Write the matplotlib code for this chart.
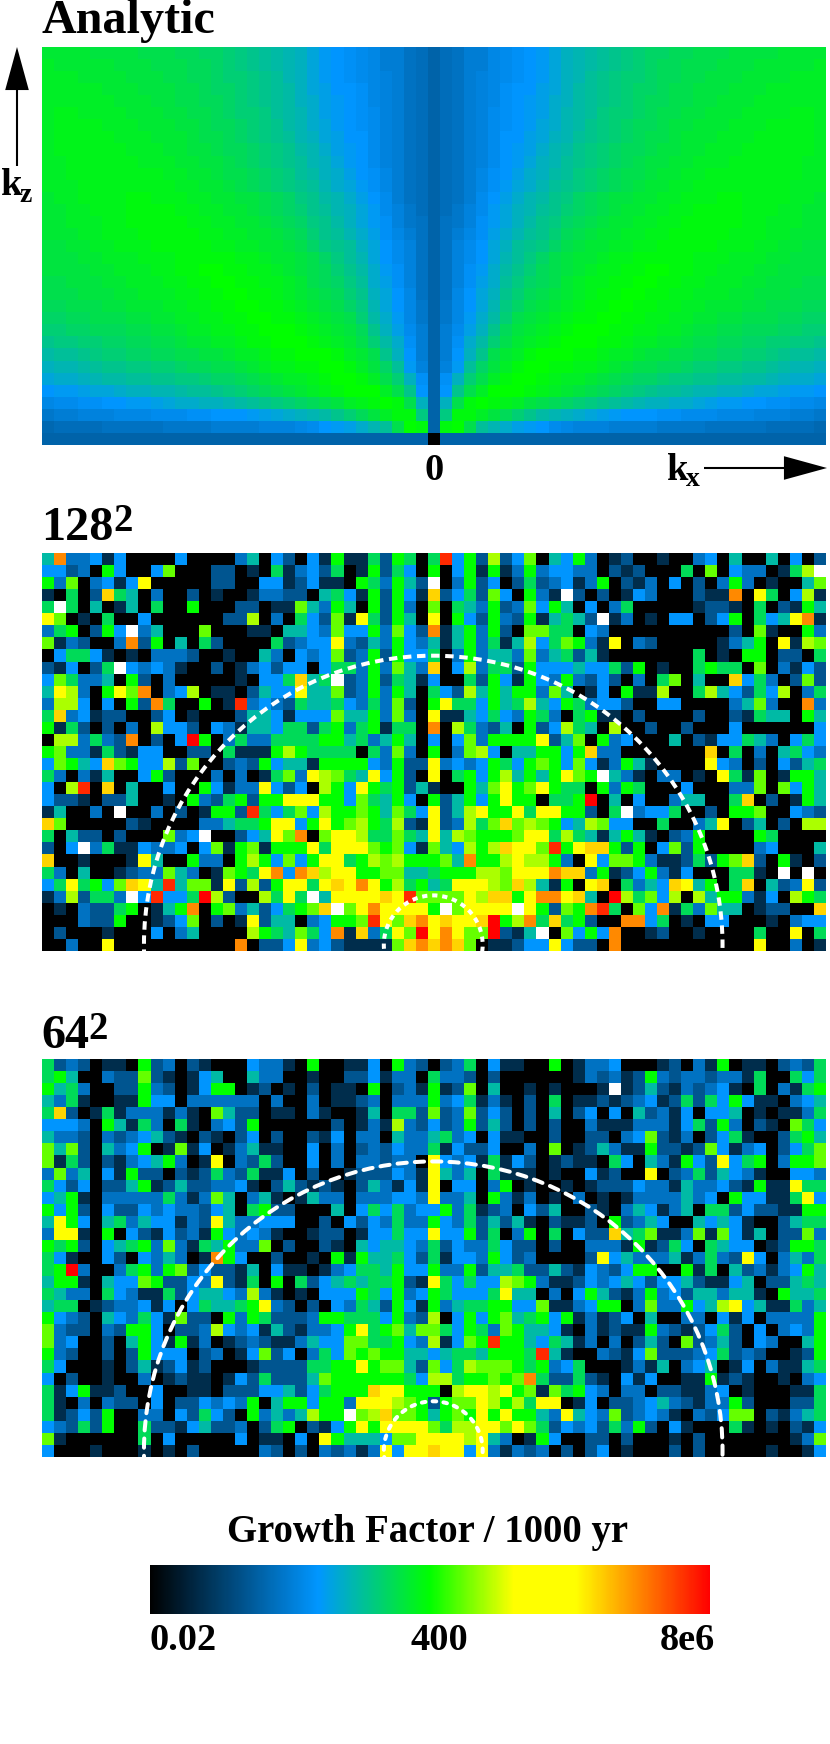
import matplotlib
matplotlib.use("Agg")
import matplotlib.pyplot as plt
import numpy as np
from matplotlib.colors import LinearSegmentedColormap, LogNorm
from matplotlib.patches import Circle
from matplotlib.cm import ScalarMappable

W, H = 830, 1744

# Analytic panel: position on the colour scale (percent), per row from top,
# for |kx| = 0 .. 32 (the panel is mirror symmetric about kx = 0)
analytic_pct = [
 [20,22,23,25,25,27,28,29,30,31,33,35,36,37,38,39,40,41,42,42,43,43,44,44,44,45,45,45,45,46,46,46,46],
 [20,22,23,25,25,27,28,29,30,31,33,35,36,37,38,39,40,41,42,43,43,44,44,44,45,45,45,46,46,46,46,46,47],
 [20,22,23,25,26,27,28,29,30,31,33,35,36,38,39,40,41,41,42,43,43,44,44,45,45,45,46,46,46,46,47,47,47],
 [20,22,23,25,26,27,29,30,30,32,33,35,37,38,39,40,41,42,42,43,44,44,45,45,45,46,46,46,47,47,47,47,47],
 [20,22,23,25,26,27,29,30,31,32,34,35,37,38,39,40,41,42,43,43,44,44,45,45,46,46,46,47,47,47,47,47,47],
 [20,22,23,25,26,28,29,30,31,32,34,36,37,38,40,41,41,42,43,44,44,45,45,46,46,46,47,47,47,47,48,48,47],
 [20,22,23,25,26,28,29,30,31,33,34,36,37,39,40,41,42,43,43,44,45,45,46,46,46,47,47,47,48,48,48,48,47],
 [20,22,23,25,26,28,30,30,32,33,35,36,38,39,40,41,42,43,44,44,45,46,46,46,47,47,47,48,48,48,48,48,47],
 [20,22,23,25,26,28,30,31,32,34,36,37,39,40,41,42,43,43,44,45,45,46,46,47,47,47,48,48,48,48,48,48,47],
 [20,22,23,25,26,28,30,31,33,35,36,38,39,40,41,42,43,44,45,45,46,46,47,47,47,48,48,48,48,48,48,47,47],
 [20,22,23,25,27,29,30,32,34,35,37,38,40,41,42,43,44,44,45,46,46,47,47,48,48,48,48,48,48,48,48,47,47],
 [20,22,23,25,27,29,31,33,34,36,38,39,40,41,42,43,44,45,46,46,47,47,48,48,48,48,48,48,48,48,47,47,47],
 [20,22,23,25,28,30,32,34,36,37,39,40,42,43,44,45,45,46,46,47,47,48,48,48,49,49,48,48,48,48,47,47,46],
 [20,22,24,26,28,31,33,35,36,38,39,41,42,43,44,45,46,46,47,47,48,48,49,49,49,49,48,48,48,47,47,46,46],
 [20,23,24,26,29,31,33,35,37,39,40,42,43,44,45,46,46,47,47,48,48,49,49,49,49,49,48,48,47,47,47,46,46],
 [20,23,25,27,29,32,34,36,38,39,41,43,44,45,46,46,47,47,48,48,49,49,49,49,49,48,48,48,47,47,46,46,46],
 [20,23,26,28,30,33,35,38,39,40,42,44,45,46,46,47,47,48,48,49,49,49,49,49,48,48,48,47,47,46,46,45,45],
 [20,23,26,28,30,33,36,38,40,42,44,45,46,46,47,48,48,49,49,49,49,49,48,48,48,47,47,47,46,46,45,45,45],
 [20,23,26,29,31,34,37,39,41,43,44,45,46,47,48,48,49,49,50,50,49,49,48,48,47,47,47,46,46,45,45,45,45],
 [20,23,26,29,32,34,38,40,42,43,44,46,47,48,48,49,49,50,50,49,49,48,48,47,47,47,46,46,45,45,45,44,44],
 [20,23,27,30,33,35,39,41,43,44,45,46,47,48,49,49,50,50,49,49,48,48,47,47,47,46,46,45,45,45,44,44,44],
 [20,24,27,30,33,36,40,42,44,45,46,47,48,49,49,50,50,49,49,48,48,47,47,46,46,46,45,45,44,44,44,43,43],
 [20,24,27,31,34,37,41,44,45,46,47,48,49,49,50,50,49,49,48,48,47,47,46,46,45,45,44,44,44,43,43,42,42],
 [20,25,28,32,35,39,43,45,46,47,48,49,50,50,50,49,49,48,48,47,47,46,45,45,44,44,43,43,43,42,42,41,41],
 [20,25,29,34,37,41,44,46,47,48,49,50,50,50,49,49,48,47,47,46,46,45,44,44,43,43,42,42,41,41,40,40,39],
 [20,25,30,35,39,44,46,47,49,50,50,50,49,49,48,47,47,46,45,45,44,44,43,43,42,42,41,41,40,39,38,38,37],
 [20,26,31,38,42,45,47,49,50,50,49,49,48,48,47,46,45,44,44,43,43,42,41,41,40,40,39,39,38,37,36,36,35],
 [20,29,35,41,44,47,49,50,50,49,48,47,47,46,45,44,43,42,42,41,40,40,39,39,38,38,37,37,36,35,34,34,33],
 [20,30,39,44,47,50,50,50,49,48,47,46,45,44,43,42,41,40,39,38,38,37,36,36,35,35,34,33,33,32,31,31,30],
 [20,35,44,49,50,49,48,47,45,44,43,42,41,40,39,38,37,36,35,35,34,34,33,32,31,31,30,30,29,29,28,28,27],
 [20,40,49,49,47,45,43,41,39,37,36,35,34,33,32,31,30,30,30,29,29,28,28,28,27,27,27,26,26,26,25,25,24],
 [20,49,50,44,38,36,34,32,31,30,28,27,26,26,26,25,25,25,25,24,24,24,24,23,23,23,23,23,22,22,22,22,21],
 [0,20,20,20,20,20,20,20,20,20,20,20,20,20,20,20,20,20,20,20,20,20,20,20,20,20,20,20,20,20,20,20,20],
]

# Simulation panels: one character per cell (rows from top)
level_pct = {"0": 0, "1": 9, "2": 17, "3": 23, "4": 30, "5": 37, "6": 43, "7": 50, "8": 56,
             "9": 60, "Y": 70, "A": 80, "O": 87, "R": 96, "X": 100, "W": 120}

grid_128 = [
 "5O334 14000 04000 03504 20417 11627 6" "06R47 29248 05473 01200 10034 05005 0402",
 "44230 74004 80002 20106 13426 01726 4" "07047 17137 34433 02120 00608 04330 169W",
 "73803 414Y0 00002 20044 12411 07637 5" "2W037 24026 23413 70213 04020 37301 0058",
 "10602 A6503 00201 00133 22056 41727 4" "1A246 28407 31W20 20143 00021 1O0Y6 0491",
 "6W605 01506 00700 02201 18537 50727 3" "08065 37238 47504 03600 00012 21060 2175",
 "Y8010 60040 00000 22903 06428 1Y627 5" "0Y074 27327 15652 W1301 04402 47064 5YO1",
 "36702 74W35 00080 00110 55438 44738 4" "2O157 37208 86604 30000 00000 02081 0073",
 "81320 03O27 05062 00006 2344Y 32537 4" "35157 36159 46873 1Y032 00000 13570 Y198",
 "04664 10103 33200 10053 04348 23727 4" "46037 35538 35625 10000 00060 10770 2206",
 "21402 6W434 31002 01342 44046 63738 5" "3A049 36627 44454 46270 10067 66080 3142",
 "48633 50720 30000 01044 6A56W 23726 5" "14006 27417 43732 42030 68050 0A463 0282",
 "5Y930 7Y8O0 34901 10254 4Y558 23737 5" "06429 57577 38501 40711 90069 54264 9036",
 "39940 4072O 60070 1R343 26556 43638 2" "07Y66 47569 54763 44200 44000 03583 00O3",
 "6A341 22002 40100 02554 14448 55738 3" "0Y115 46437 63067 11020 00020 02165 5075",
 "71620 20309 44204 31554 66267 36716 6" "0O096 32507 24965 09002 00200 04000 0004",
 "09936 32O02 04X70 36336 66677 56357 5" "04048 37777 Y2580 73400 05021 44653 0464",
 "78331 62144 00220 61117 97666 60638 3" "07038 94055 7747A 33000 0000A 06030 5643",
 "48754 A8744 92800 23274 55177 77437 2" "2Y343 47647 87484 13751 0000Y 43020 4256",
 "63031 50047 20003 03016 83Y98 65Y47 2" "0Y067 47957 57Y87 W5310 33010 Y6180 1775",
 "409R0 A0500 40074 133Y4 24097 4Y767 2" "51007 58Y78 Y7660 73760 00400 03380 8475",
 "42210 22500 10732 67277 YYY77 48657 4" "07257 47Y77 0667X 05040 03550 06A02 0175",
 "15003 0W003 02017 72R64 68497 78758 6" "4Y259 Y77Y6 YY772 06W34 46002 07780 0432",
 "A8000 00210 00033 5667Y Y47Y7 89769 2" "1Y239 68A89 87459 84400 60035 Y0250 2099",
 "60522 02000 834W0 0245Y 8O08Y Y9668 6" "5Y598 7778Y Y6965 15751 02370 00076 0000",
 "204W3 61143 34048 17817 77Y6Y YY878 4" "18549 79AYY 8R7YA A7270 48270 00034 0005",
 "A0010 001Y5 00733 07974 847YY 67989 7" "7785O 779Y9 9730Y 48873 11262 78A20 7102",
 "63050 01233 85301 876YO 4OA9Y Y7788 5" "56777 998YY YOAA3 71247 31400 06610 W0W0",
 "46Y67 48AY5 R5881 Y2927 YY6YA YOY79 6" "756YY Y98A9 5170Y A0635 4AY57 06A05 23Y2",
 "13926 63W4R 446X9 20096 Y6W5Y YYYAY R" "8888Y 9AA7Y OOYA5 0X968 49095 77314 0976",
 "01032 26701 57O07 83524 678AW 8YOYY Y" "Y7W8Y YYYWY 7287O R6084 O1638 55012 200A",
 "00032 27001 24802 01Y25 50347 78RY8 A" "OYAYY AX79O 6A672 00OO4 60104 40001 0344",
 "02000 10004 03500 00976 5864O 1A36Y 8" "XYOY8 8X215 W0847 4O001 20010 00060 0Y06",
 "00300 Y0000 00000 0O022 4Y342 11118 A" "OAOA8 01124 4Y422 0O000 00000 000Y0 0301",
]

grid_64 = [
 "62320 11072 30210 00433 10700 11407 3" "20236 04110 07013 34000 12031 70110 2326",
 "67500 32282 10145 00533 00100 22413 3" "06332 02000 00013 23127 32332 33160 0646",
 "75630 02273 20147 70120 10201 10702 3" "17128 05001 01000 1W125 21323 41060 3167",
 "53610 01174 40333 33303 00301 12303 3" "37346 13102 06011 21234 12626 47411 0345",
 "6A201 61333 13108 52201 10310 01506 6" "28238 24202 05024 04052 31404 45010 1136",
 "44430 75163 06103 42700 00002 01319 3" "24237 25202 02003 11133 31462 73021 0864",
 "53320 32345 21021 02402 00214 03305 3" "35634 04110 02002 20348 21302 46100 2675",
 "85820 53470 18140 13511 00403 02324 3" "36142 24003 08012 53117 22128 41340 2468",
 "81620 21345 7301Y 03262 00403 03323 3" "0Y434 16142 01211 06405 31742 Y4670 3778",
 "38350 41722 02126 32611 40200 12224 3" "1Y535 06111 01004 1200Y 02362 54310 0443",
 "64240 22571 25223 34102 52121 02531 4" "1Y044 03701 00101 22243 31533 42171 1Y66",
 "45710 33333 63138 50351 01533 03334 4" "3Y335 07313 01030 10133 33534 07441 16Y4",
 "74720 42243 43324 50672 20005 04646 3" "44736 12304 25002 10354 13506 62422 1177",
 "5Y740 56354 4132Y 53344 40020 42436 3" "37436 25251 02112 07235 40054 54100 2566",
 "3YY10 70421 42317 43431 00122 01446 4" "4Y447 26037 06042 2A568 11381 84150 2283",
 "76720 45673 83165 73380 20021 05455 4" "36243 36422 02003 33171 26406 54401 2776",
 "64100 42043 5301O 74002 00107 17556 4" "26144 37423 00002 Y4533 35136 32Y40 3536",
 "67X30 03673 78242 21504 11013 46657 4" "47337 25562 25214 32477 00716 05231 3475",
 "57710 54487 2243Y 21607 06245 65667 2" "1Y646 44987 31124 34542 44521 14502 2565",
 "65330 64311 62455 43931 01044 47647 3" "47644 46Y55 03047 52137 34255 35510 7556",
 "56601 23341 40465 567Y3 20204 36527 4" "17356 67744 81134 77038 33745 9Y451 1635",
 "74320 54364 18220 73762 22377 66647 3" "29047 47856 74713 12405 00330 41403 3337",
 "83220 32774 02239 43415 21334 7Y678 5" "88647 63875 54103 12117 32124 62040 3437",
 "83400 20574 17130 12321 13544 88667 4" "39148 7R775 46513 03025 20823 52043 0057",
 "73200 20274 44023 01482 40364 87877 5" "54566 57776 R5100 32148 22234 62320 0127",
 "64000 10251 24120 00122 22667 7Y788 5" "28469 88876 73460 00131 50345 01403 1156",
 "40200 10030 12110 14262 22587 77777 6" "49967 7878O 62262 10414 00117 12100 1034",
 "61471 12004 00110 22244 52467 77AYY 7" "7709Y Y9Y78 18674 30330 22113 40100 0116",
 "61030 32204 02243 43705 77477 3YYY9 8" "72788 Y9796 YY014 02234 53213 37200 0226",
 "61242 70033 04264 20735 35977 W89A8 8" "75787 Y7Y77 53Y54 38234 31032 48802 1356",
 "43262 70062 21452 23026 70214 7Y7YY Y" "Y8699 YY8Y8 62434 26372 04100 06101 0214",
 "81000 00060 40000 04011 040Y7 55548 8" "YYYY9 Y5301 74002 20200 01020 00000 0138",
 "40001 00010 10200 00032 02032 313Y4 Y" "YAYY4 Y3132 30202 40100 02020 00001 0014",
]

cbar_ticks = ["0.02", "400", "8e6"]
cbar_title = "Growth Factor / 1000 yr"
panel_titles = ["Analytic", "128", "64"]
ring_radii = [24.0, 4.1]

cmap = LinearSegmentedColormap.from_list("gf", [
    (0.0, "#000000"), (0.30, "#0096ff"), (0.50, "#00ff00"),
    (0.65, "#ffff00"), (0.76, "#ffff00"), (1.0, "#ff0000")], N=512)
cmap.set_over("white")
cmap.set_under("black")
norm = LogNorm(vmin=0.02, vmax=8e6)


def pct_to_value(pct):
    return 0.02 * (8e6 / 0.02) ** (np.asarray(pct, float) / 100.0)


def grid_to_values(rows):
    out = []
    for i, r in enumerate(rows):
        r = r.replace(" ", "")
        if len(r) != 65:
            raise ValueError(f"row {i} has {len(r)} cells")
        out.append([level_pct[c] for c in r])
    return pct_to_value(out)


half = np.array(analytic_pct, float)
analytic_vals = pct_to_value(np.hstack([half[:, :0:-1], half]))
vals_128 = grid_to_values(grid_128)
vals_64 = grid_to_values(grid_64)

plt.rcParams["font.family"] = ["Liberation Serif", "DejaVu Serif"]
plt.rcParams["font.weight"] = "bold"
fig = plt.figure(figsize=(W / 100, H / 100), dpi=100, facecolor="white")


def px_axes(x0, y0, x1, y1, **kw):
    return fig.add_axes([x0 / W, 1 - y1 / H, (x1 - x0) / W, (y1 - y0) / H], **kw)


X0, X1 = 41.5, 825
panels = [(46.7, 444.7, analytic_vals), (553.3, 950.8, vals_128), (1059.0, 1456.7, vals_64)]
axes = []
for y0, y1, vals in panels:
    ax = px_axes(X0, y0, X1, y1)
    ax.imshow(vals, cmap=cmap, norm=norm, interpolation="nearest", aspect="auto",
              extent=(-32.5, 32.5, -0.5, 32.5), origin="upper")
    ax.set_xlim(-32.5, 32.5)
    ax.set_ylim(-0.5, 32.5)
    ax.axis("off")
    axes.append(ax)

# (dash, gap) in line widths, cap style: outer ring then inner ring
ring_styles = [
    [((2.1, 1.4), "butt"), ((1.3, 1.2), "butt")],
    [((2.3, 2.0), "round"), ((0.9, 1.8), "round")],
]
for ax, styles in zip(axes[1:], ring_styles):
    for rad, (dash, cap) in zip(ring_radii, styles):
        ax.add_patch(Circle((0, 0), rad, fill=False, ec="white", lw=2.9,
                            linestyle=(0, dash), capstyle=cap, clip_on=True))

cax = px_axes(150, 1565, 710, 1614)
cb = fig.colorbar(ScalarMappable(norm=norm, cmap=cmap), cax=cax, orientation="horizontal")
cb.set_ticks([])
cb.minorticks_off()
cb.outline.set_visible(False)

ov = fig.add_axes([0, 0, 1, 1], zorder=10)
ov.set_xlim(0, W)
ov.set_ylim(H, 0)
ov.axis("off")
ov.patch.set_alpha(0)

T = dict(color="black", fontweight="bold", va="baseline")
ov.text(41, 33, panel_titles[0], fontsize=34.7, **T)
ov.text(41, 540, panel_titles[1], fontsize=34.7, **T)
ov.text(113, 531, "2", fontsize=28, **T)
ov.text(41, 1048, panel_titles[2], fontsize=34.7, **T)
ov.text(88, 1039, "2", fontsize=28, **T)

ov.text(434, 480, "0", fontsize=27.6, ha="center", **T)
ov.text(667, 480, "k", fontsize=27.6, **T)
ov.text(686, 486, "x", fontsize=20, **T)
ov.text(1, 195, "k", fontsize=27.6, **T)
ov.text(19, 202, "z", fontsize=20, **T)

arrow = dict(facecolor="black", edgecolor="black", width=1.5, headwidth=17, headlength=31,
             shrink=0, linewidth=0)
ov.annotate("", xy=(827, 468), xytext=(704, 468), arrowprops=arrow, annotation_clip=False)
ov.annotate("", xy=(17, 47), xytext=(17, 166), arrowprops=arrow, annotation_clip=False)

ov.text(427.5, 1542, cbar_title, fontsize=27.9, ha="center", **T)
ov.text(149, 1650, cbar_ticks[0], fontsize=27.6, ha="left", **T)
ov.text(439, 1650, cbar_ticks[1], fontsize=27.6, ha="center", **T)
ov.text(715, 1650, cbar_ticks[2], fontsize=27.6, ha="right", **T)

fig.savefig("out.png", dpi=100, facecolor="white")
